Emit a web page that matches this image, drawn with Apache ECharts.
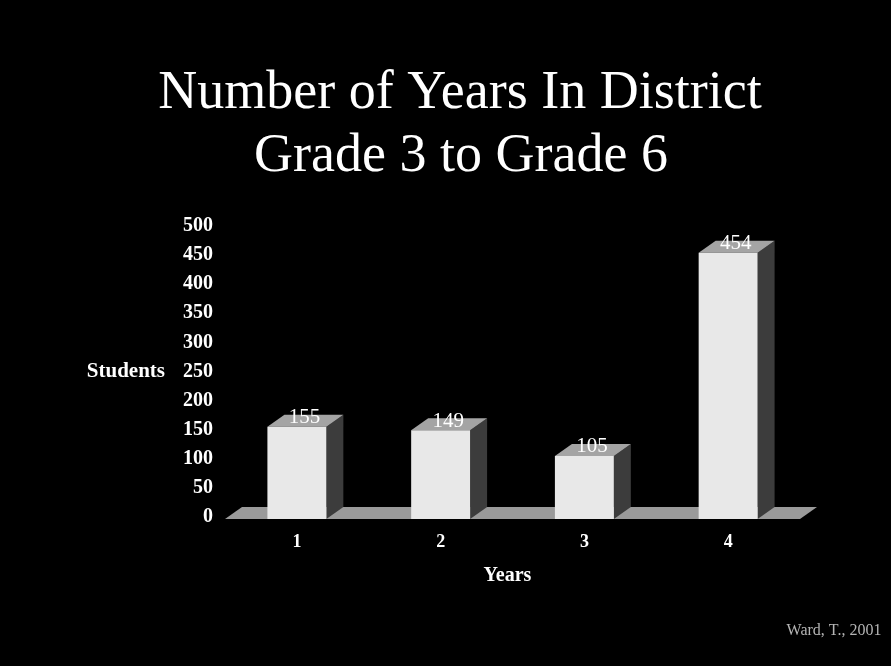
<!DOCTYPE html>
<html>
<head>
<meta charset="utf-8">
<script src="https://cdn.jsdelivr.net/npm/echarts@6/dist/echarts.min.js"></script>
<style>
html,body{margin:0;padding:0;background:#000;}
#chart{width:891px;height:666px;}
</style>
</head>
<body>
<div id="chart"></div>
<script>
// ---- data ----
const titleLines = ['Number of Years In District', 'Grade 3 to Grade 6'];
const categories = ['1', '2', '3', '4'];
const students = [155, 149, 105, 454];
const yTicks = { min: 0, max: 500, interval: 50 };
const xName = 'Years';
const yName = 'Students';
const credit = 'Ward, T., 2001';

// ---- style ----
const DX = 17, DY = -12;
const serif = '"Liberation Serif", "Times New Roman", serif';

const chart = echarts.init(document.getElementById('chart'), null, { renderer: 'canvas' });

const option = {
  backgroundColor: '#000',
  animation: false,
  graphic: [
    { type: 'text', x: 460, y: 94, style: { text: titleLines[0], fill: '#fff', font: '54px ' + serif, textAlign: 'center', textVerticalAlign: 'middle' } },
    { type: 'text', x: 461, y: 157, style: { text: titleLines[1], fill: '#fff', font: '54px ' + serif, textAlign: 'center', textVerticalAlign: 'middle' } },
    { type: 'text', x: 834, y: 631, style: { text: credit, fill: '#b4b4b4', font: '16px ' + serif, textAlign: 'center', textVerticalAlign: 'middle' } }
  ],
  grid: { left: 225, right: 91, top: 226, bottom: 149 },
  xAxis: {
    type: 'category',
    data: categories,
    axisLine: { show: false },
    axisTick: { show: false },
    axisLabel: { color: '#fff', fontFamily: serif, fontWeight: 'bold', fontSize: 18, margin: 16 },
    name: xName,
    nameLocation: 'middle',
    nameGap: 49,
    nameTextStyle: { color: '#fff', fontFamily: serif, fontWeight: 'bold', fontSize: 20, padding: [0, 10, 0, 0] }
  },
  yAxis: {
    type: 'value',
    min: yTicks.min, max: yTicks.max, interval: yTicks.interval,
    axisLine: { show: false },
    axisTick: { show: false },
    splitLine: { show: false },
    axisLabel: { color: '#fff', fontFamily: serif, fontWeight: 'bold', fontSize: 20, margin: 12 },
    name: yName,
    nameLocation: 'middle',
    nameRotate: 0,
    nameGap: 60,
    nameTextStyle: { color: '#fff', fontFamily: serif, fontWeight: 'bold', fontSize: 21 }
  },
  series: [
    {
      type: 'custom',
      z: 1,
      data: [[0, 0]],
      renderItem: function (params, api) {
        const cs = params.coordSys;
        const y0 = api.coord([0, 0])[1] + 2;
        return {
          type: 'polygon',
          shape: { points: [[cs.x, y0], [cs.x + cs.width, y0], [cs.x + cs.width + DX, y0 + DY], [cs.x + DX, y0 + DY]] },
          style: { fill: '#9a9a9a' }
        };
      }
    },
    {
      type: 'custom',
      z: 2,
      data: students.map((v, i) => [i, v]),
      encode: { x: 0, y: 1 },
      renderItem: function (params, api) {
        const idx = api.value(0), v = api.value(1);
        const base = api.coord([idx, 0]);
        const top = api.coord([idx, v]);
        const bw = api.size([1, 0])[0] * 0.41;
        const x0 = top[0] - bw / 2, x1 = top[0] + bw / 2;
        const yb = base[1] + 2, yt = top[1];
        return {
          type: 'group',
          children: [
            { type: 'polygon', shape: { points: [[x1, yt], [x1 + DX, yt + DY], [x1 + DX, yb + DY], [x1, yb]] }, style: { fill: '#3c3c3c' } },
            { type: 'polygon', shape: { points: [[x0, yt], [x0 + DX, yt + DY], [x1 + DX, yt + DY], [x1, yt]] }, style: { fill: '#a4a4a4' } },
            { type: 'rect', shape: { x: x0, y: yt, width: bw, height: yb - yt }, style: { fill: '#e8e8e8' } },
            { type: 'text', style: { text: String(v), x: top[0] + DX / 2 - 1, y: yt + DY / 2 - 3, textAlign: 'center', textVerticalAlign: 'middle', fill: '#fff', font: '21px ' + serif } }
          ]
        };
      }
    }
  ]
};
chart.setOption(option);
</script>
</body>
</html>
